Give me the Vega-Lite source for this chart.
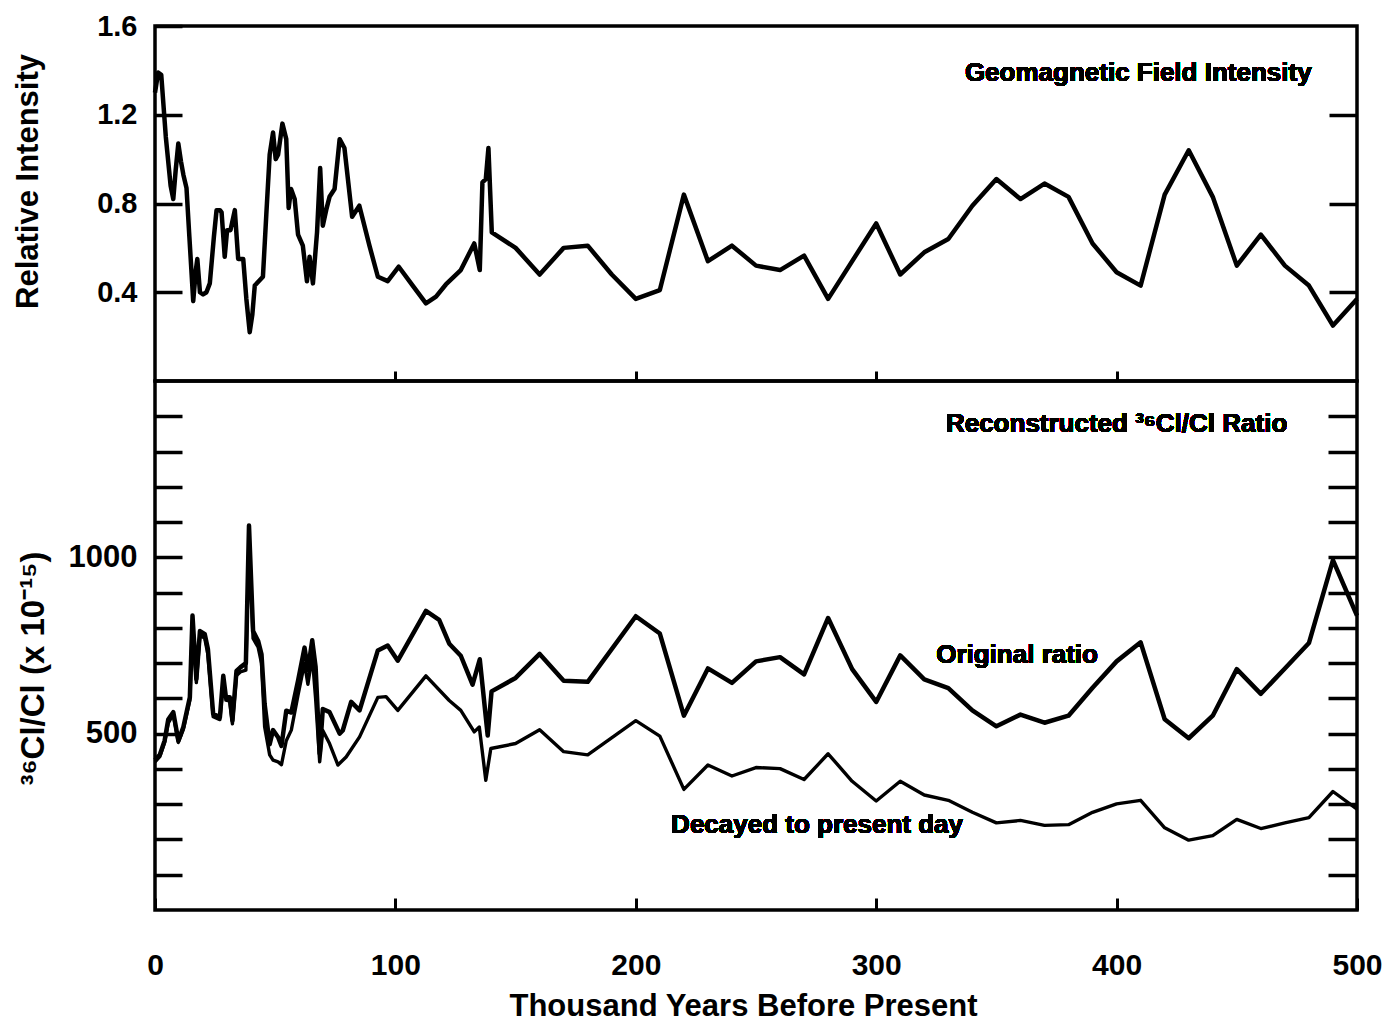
{
  "$schema": "https://vega.github.io/schema/vega-lite/v6.json",
  "background": "white",
  "padding": {"left": 10, "top": 10, "right": 20, "bottom": 6},
  "spacing": 0,
  "bounds": "flush",
  "config": {
    "view": {"stroke": "black", "strokeWidth": 3.5},
    "font": "Liberation Sans",
    "axis": {
      "domain": false, "grid": false,
      "labelFont": "Liberation Sans", "labelFontWeight": "bold", "labelColor": "black",
      "titleFont": "Liberation Sans", "titleFontWeight": "bold", "titleColor": "black",
      "tickColor": "black", "tickWidth": 3.5, "labelFlush": false, "labelOverlap": false
    }
  },
  "datasets": {
    "geo": [
      {"kyr":0,"intensity":1.30},{"kyr":1.3,"intensity":1.39},{"kyr":2.6,"intensity":1.38},{"kyr":4.5,"intensity":1.10},
      {"kyr":6.5,"intensity":0.88},{"kyr":7.6,"intensity":0.82},{"kyr":8.6,"intensity":0.95},{"kyr":9.7,"intensity":1.07},
      {"kyr":10.8,"intensity":0.99},{"kyr":11.8,"intensity":0.93},{"kyr":13.1,"intensity":0.87},{"kyr":14.3,"intensity":0.65},
      {"kyr":15.9,"intensity":0.36},{"kyr":17.0,"intensity":0.50},{"kyr":17.6,"intensity":0.55},{"kyr":18.7,"intensity":0.40},
      {"kyr":20.0,"intensity":0.39},{"kyr":21.4,"intensity":0.40},{"kyr":22.8,"intensity":0.44},{"kyr":24.5,"intensity":0.65},
      {"kyr":25.6,"intensity":0.77},{"kyr":27.0,"intensity":0.77},{"kyr":27.7,"intensity":0.76},{"kyr":29.0,"intensity":0.56},
      {"kyr":30.0,"intensity":0.68},{"kyr":31.4,"intensity":0.68},{"kyr":33.2,"intensity":0.77},{"kyr":34.6,"intensity":0.55},
      {"kyr":36.7,"intensity":0.55},{"kyr":38.0,"intensity":0.37},{"kyr":39.4,"intensity":0.22},{"kyr":40.5,"intensity":0.30},
      {"kyr":41.5,"intensity":0.43},{"kyr":44.9,"intensity":0.47},{"kyr":46.3,"intensity":0.75},{"kyr":47.7,"intensity":1.02},
      {"kyr":49.1,"intensity":1.12},{"kyr":50.2,"intensity":1.00},{"kyr":51.2,"intensity":1.02},{"kyr":53.0,"intensity":1.16},
      {"kyr":54.6,"intensity":1.09},{"kyr":55.6,"intensity":0.78},{"kyr":56.6,"intensity":0.865},{"kyr":58.1,"intensity":0.82},
      {"kyr":59.5,"intensity":0.66},{"kyr":61.5,"intensity":0.61},{"kyr":63.2,"intensity":0.45},{"kyr":64.3,"intensity":0.56},
      {"kyr":65.7,"intensity":0.44},{"kyr":67.4,"intensity":0.67},{"kyr":68.7,"intensity":0.96},{"kyr":69.8,"intensity":0.70},
      {"kyr":71.2,"intensity":0.77},{"kyr":72.6,"intensity":0.83},{"kyr":74.7,"intensity":0.865},{"kyr":76.8,"intensity":1.09},
      {"kyr":78.8,"intensity":1.05},{"kyr":82.0,"intensity":0.74},{"kyr":85.0,"intensity":0.79},{"kyr":89.2,"intensity":0.61},
      {"kyr":92.7,"intensity":0.47},{"kyr":96.8,"intensity":0.45},{"kyr":101.4,"intensity":0.515},{"kyr":107.2,"intensity":0.43},
      {"kyr":112.7,"intensity":0.35},{"kyr":116.9,"intensity":0.38},{"kyr":121.0,"intensity":0.435},{"kyr":127.2,"intensity":0.50},
      {"kyr":132.8,"intensity":0.62},{"kyr":135.1,"intensity":0.50},{"kyr":136.2,"intensity":0.895},{"kyr":137.6,"intensity":0.91},
      {"kyr":138.7,"intensity":1.05},{"kyr":140.1,"intensity":0.67},{"kyr":150,"intensity":0.60},{"kyr":160,"intensity":0.48},
      {"kyr":170,"intensity":0.60},{"kyr":180,"intensity":0.61},{"kyr":190,"intensity":0.48},{"kyr":200,"intensity":0.37},
      {"kyr":210,"intensity":0.41},{"kyr":220,"intensity":0.84},{"kyr":230,"intensity":0.54},{"kyr":240,"intensity":0.61},
      {"kyr":250,"intensity":0.52},{"kyr":260,"intensity":0.50},{"kyr":270,"intensity":0.565},{"kyr":280,"intensity":0.37},
      {"kyr":300,"intensity":0.71},{"kyr":310,"intensity":0.48},{"kyr":320,"intensity":0.58},{"kyr":330,"intensity":0.64},
      {"kyr":340,"intensity":0.79},{"kyr":350,"intensity":0.91},{"kyr":360,"intensity":0.82},{"kyr":370,"intensity":0.89},
      {"kyr":380,"intensity":0.83},{"kyr":390,"intensity":0.62},{"kyr":400,"intensity":0.49},{"kyr":410,"intensity":0.43},
      {"kyr":420,"intensity":0.84},{"kyr":430,"intensity":1.04},{"kyr":440,"intensity":0.83},{"kyr":450,"intensity":0.52},
      {"kyr":460,"intensity":0.66},{"kyr":470,"intensity":0.52},{"kyr":480,"intensity":0.43},{"kyr":490,"intensity":0.25},
      {"kyr":500,"intensity":0.37}
    ],
    "cl": [
      {"kyr":0,"ratio":425,"series":"Original"},{"kyr":2,"ratio":440,"series":"Original"},{"kyr":4,"ratio":480,"series":"Original"},
      {"kyr":5.5,"ratio":540,"series":"Original"},{"kyr":7.6,"ratio":561,"series":"Original"},{"kyr":9.7,"ratio":480,"series":"Original"},
      {"kyr":11.8,"ratio":519,"series":"Original"},{"kyr":14.5,"ratio":603,"series":"Original"},{"kyr":15.6,"ratio":835,"series":"Original"},
      {"kyr":17.2,"ratio":655,"series":"Original"},{"kyr":18.7,"ratio":791,"series":"Original"},{"kyr":20.7,"ratio":782,"series":"Original"},
      {"kyr":22.0,"ratio":740,"series":"Original"},{"kyr":24.2,"ratio":556,"series":"Original"},{"kyr":27.0,"ratio":547,"series":"Original"},
      {"kyr":28.4,"ratio":664,"series":"Original"},{"kyr":29.5,"ratio":603,"series":"Original"},{"kyr":31.1,"ratio":603,"series":"Original"},
      {"kyr":32.2,"ratio":537,"series":"Original"},{"kyr":33.9,"ratio":678,"series":"Original"},{"kyr":35.5,"ratio":688,"series":"Original"},
      {"kyr":37.8,"ratio":700,"series":"Original"},{"kyr":39.1,"ratio":1090,"series":"Original"},{"kyr":40.8,"ratio":791,"series":"Original"},
      {"kyr":42.9,"ratio":763,"series":"Original"},{"kyr":44.3,"ratio":725,"series":"Original"},{"kyr":45.6,"ratio":584,"series":"Original"},
      {"kyr":47.7,"ratio":470,"series":"Original"},{"kyr":49.1,"ratio":510,"series":"Original"},{"kyr":51.2,"ratio":490,"series":"Original"},
      {"kyr":52.6,"ratio":465,"series":"Original"},{"kyr":54.6,"ratio":565,"series":"Original"},{"kyr":56.7,"ratio":560,"series":"Original"},
      {"kyr":59.5,"ratio":650,"series":"Original"},{"kyr":62.2,"ratio":744,"series":"Original"},{"kyr":63.6,"ratio":680,"series":"Original"},
      {"kyr":65.4,"ratio":765,"series":"Original"},{"kyr":66.8,"ratio":690,"series":"Original"},{"kyr":68.5,"ratio":443,"series":"Original"},
      {"kyr":69.8,"ratio":570,"series":"Original"},{"kyr":72.6,"ratio":561,"series":"Original"},{"kyr":76.8,"ratio":500,"series":"Original"},
      {"kyr":78.1,"ratio":509,"series":"Original"},{"kyr":81.6,"ratio":590,"series":"Original"},{"kyr":85.1,"ratio":566,"series":"Original"},
      {"kyr":92.7,"ratio":736,"series":"Original"},{"kyr":96.8,"ratio":750,"series":"Original"},{"kyr":101.0,"ratio":707,"series":"Original"},
      {"kyr":112.7,"ratio":848,"series":"Original"},{"kyr":118.2,"ratio":823,"series":"Original"},{"kyr":122.4,"ratio":755,"series":"Original"},
      {"kyr":127.2,"ratio":721,"series":"Original"},{"kyr":132.1,"ratio":639,"series":"Original"},{"kyr":135.1,"ratio":711,"series":"Original"},
      {"kyr":138.4,"ratio":495,"series":"Original"},{"kyr":140,"ratio":620,"series":"Original"},{"kyr":150,"ratio":658,"series":"Original"},
      {"kyr":160,"ratio":726,"series":"Original"},{"kyr":170,"ratio":650,"series":"Original"},{"kyr":180,"ratio":647,"series":"Original"},
      {"kyr":200,"ratio":833,"series":"Original"},{"kyr":210,"ratio":784,"series":"Original"},{"kyr":220,"ratio":551,"series":"Original"},
      {"kyr":230,"ratio":685,"series":"Original"},{"kyr":240,"ratio":644,"series":"Original"},{"kyr":250,"ratio":705,"series":"Original"},
      {"kyr":260,"ratio":717,"series":"Original"},{"kyr":270,"ratio":668,"series":"Original"},{"kyr":280,"ratio":828,"series":"Original"},
      {"kyr":290,"ratio":683,"series":"Original"},{"kyr":300,"ratio":590,"series":"Original"},{"kyr":310,"ratio":722,"series":"Original"},
      {"kyr":320,"ratio":654,"series":"Original"},{"kyr":330,"ratio":629,"series":"Original"},{"kyr":340,"ratio":566,"series":"Original"},
      {"kyr":350,"ratio":521,"series":"Original"},{"kyr":360,"ratio":554,"series":"Original"},{"kyr":370,"ratio":531,"series":"Original"},
      {"kyr":380,"ratio":551,"series":"Original"},{"kyr":390,"ratio":630,"series":"Original"},{"kyr":400,"ratio":705,"series":"Original"},
      {"kyr":410,"ratio":759,"series":"Original"},{"kyr":420,"ratio":541,"series":"Original"},{"kyr":430,"ratio":487,"series":"Original"},
      {"kyr":440,"ratio":551,"series":"Original"},{"kyr":450,"ratio":683,"series":"Original"},{"kyr":460,"ratio":613,"series":"Original"},
      {"kyr":470,"ratio":685,"series":"Original"},{"kyr":480,"ratio":757,"series":"Original"},{"kyr":490,"ratio":992,"series":"Original"},
      {"kyr":500,"ratio":835,"series":"Original"},
      {"kyr":0,"ratio":420,"series":"Decayed"},{"kyr":2,"ratio":435,"series":"Decayed"},{"kyr":4,"ratio":475,"series":"Decayed"},
      {"kyr":5.5,"ratio":530,"series":"Decayed"},{"kyr":7.6,"ratio":555,"series":"Decayed"},{"kyr":9.7,"ratio":475,"series":"Decayed"},
      {"kyr":11.8,"ratio":512,"series":"Decayed"},{"kyr":14.5,"ratio":595,"series":"Decayed"},{"kyr":15.6,"ratio":820,"series":"Decayed"},
      {"kyr":17.2,"ratio":645,"series":"Decayed"},{"kyr":18.7,"ratio":780,"series":"Decayed"},{"kyr":20.7,"ratio":770,"series":"Decayed"},
      {"kyr":22.0,"ratio":725,"series":"Decayed"},{"kyr":24.2,"ratio":548,"series":"Decayed"},{"kyr":27.0,"ratio":540,"series":"Decayed"},
      {"kyr":28.4,"ratio":650,"series":"Decayed"},{"kyr":29.5,"ratio":595,"series":"Decayed"},{"kyr":31.1,"ratio":592,"series":"Decayed"},
      {"kyr":32.2,"ratio":528,"series":"Decayed"},{"kyr":33.9,"ratio":665,"series":"Decayed"},{"kyr":35.5,"ratio":675,"series":"Decayed"},
      {"kyr":37.8,"ratio":680,"series":"Decayed"},{"kyr":39.1,"ratio":1050,"series":"Decayed"},{"kyr":40.8,"ratio":770,"series":"Decayed"},
      {"kyr":42.9,"ratio":745,"series":"Decayed"},{"kyr":44.3,"ratio":700,"series":"Decayed"},{"kyr":45.6,"ratio":520,"series":"Decayed"},
      {"kyr":47.7,"ratio":440,"series":"Decayed"},{"kyr":49.1,"ratio":425,"series":"Decayed"},{"kyr":51.2,"ratio":420,"series":"Decayed"},
      {"kyr":52.6,"ratio":412,"series":"Decayed"},{"kyr":54.6,"ratio":480,"series":"Decayed"},{"kyr":56.7,"ratio":510,"series":"Decayed"},
      {"kyr":59.5,"ratio":610,"series":"Decayed"},{"kyr":62.2,"ratio":700,"series":"Decayed"},{"kyr":63.6,"ratio":640,"series":"Decayed"},
      {"kyr":65.4,"ratio":720,"series":"Decayed"},{"kyr":66.8,"ratio":600,"series":"Decayed"},{"kyr":68.5,"ratio":420,"series":"Decayed"},
      {"kyr":69.8,"ratio":509,"series":"Decayed"},{"kyr":72.6,"ratio":472,"series":"Decayed"},{"kyr":76.1,"ratio":411,"series":"Decayed"},
      {"kyr":79.5,"ratio":434,"series":"Decayed"},{"kyr":85.1,"ratio":491,"series":"Decayed"},{"kyr":92.7,"ratio":603,"series":"Decayed"},
      {"kyr":96.1,"ratio":605,"series":"Decayed"},{"kyr":101.0,"ratio":566,"series":"Decayed"},{"kyr":112.7,"ratio":664,"series":"Decayed"},
      {"kyr":122.4,"ratio":594,"series":"Decayed"},{"kyr":127.2,"ratio":566,"series":"Decayed"},{"kyr":132.8,"ratio":505,"series":"Decayed"},
      {"kyr":134.9,"ratio":519,"series":"Decayed"},{"kyr":137.6,"ratio":368,"series":"Decayed"},{"kyr":139.7,"ratio":458,"series":"Decayed"},
      {"kyr":150,"ratio":472,"series":"Decayed"},{"kyr":160,"ratio":511,"series":"Decayed"},{"kyr":170,"ratio":449,"series":"Decayed"},
      {"kyr":180,"ratio":440,"series":"Decayed"},{"kyr":200,"ratio":537,"series":"Decayed"},{"kyr":210,"ratio":493,"series":"Decayed"},
      {"kyr":220,"ratio":342,"series":"Decayed"},{"kyr":230,"ratio":411,"series":"Decayed"},{"kyr":240,"ratio":380,"series":"Decayed"},
      {"kyr":250,"ratio":404,"series":"Decayed"},{"kyr":260,"ratio":401,"series":"Decayed"},{"kyr":270,"ratio":370,"series":"Decayed"},
      {"kyr":280,"ratio":443,"series":"Decayed"},{"kyr":290,"ratio":365,"series":"Decayed"},{"kyr":300,"ratio":309,"series":"Decayed"},
      {"kyr":310,"ratio":365,"series":"Decayed"},{"kyr":320,"ratio":326,"series":"Decayed"},{"kyr":330,"ratio":311,"series":"Decayed"},
      {"kyr":340,"ratio":277,"series":"Decayed"},{"kyr":350,"ratio":247,"series":"Decayed"},{"kyr":360,"ratio":254,"series":"Decayed"},
      {"kyr":370,"ratio":240,"series":"Decayed"},{"kyr":380,"ratio":242,"series":"Decayed"},{"kyr":390,"ratio":277,"series":"Decayed"},
      {"kyr":400,"ratio":301,"series":"Decayed"},{"kyr":410,"ratio":311,"series":"Decayed"},{"kyr":420,"ratio":233,"series":"Decayed"},
      {"kyr":430,"ratio":198,"series":"Decayed"},{"kyr":440,"ratio":211,"series":"Decayed"},{"kyr":450,"ratio":257,"series":"Decayed"},
      {"kyr":460,"ratio":231,"series":"Decayed"},{"kyr":470,"ratio":247,"series":"Decayed"},{"kyr":480,"ratio":262,"series":"Decayed"},
      {"kyr":490,"ratio":336,"series":"Decayed"},{"kyr":500,"ratio":286,"series":"Decayed"}
    ]
  },
  "vconcat": [
    {
      "width": 1202,
      "height": 355,
      "data": {"name": "geo"},
      "resolve": {"axis": {"y": "independent"}},
      "layer": [
        {
          "mark": {"type": "line", "color": "black", "strokeWidth": 4.5, "strokeJoin": "round"},
          "encoding": {
            "x": {"field": "kyr", "type": "quantitative", "scale": {"domain": [0, 500], "nice": false, "zero": false},
                  "axis": {"orient": "bottom", "values": [100, 200, 300, 400], "labels": false, "tickSize": -10, "tickWidth": 3, "title": null}},
            "y": {"field": "intensity", "type": "quantitative", "scale": {"domain": [0, 1.6], "nice": false},
                  "axis": {"orient": "left", "values": [0.4, 0.8, 1.2, 1.6], "format": ".1f", "tickSize": -27, "labelPadding": 45, "labelFontSize": 29,
                           "title": "Relative Intensity", "titleFontSize": 31, "titleX": -127, "titleY": 155, "titleBaseline": "middle", "titleAngle": -90}}
          }
        },
        {
          "mark": {"type": "line", "opacity": 0},
          "encoding": {
            "x": {"field": "kyr", "type": "quantitative"},
            "y": {"field": "intensity", "type": "quantitative",
                  "axis": {"orient": "right", "values": [0.4, 0.8, 1.2], "labels": false, "tickSize": -28, "title": null}}
          }
        },
        {
          "mark": {"type": "text", "font": "Liberation Sans", "fontWeight": "bold", "fontSize": 26, "align": "center", "baseline": "middle", "color": "black"},
          "encoding": {
            "x": {"datum": 409, "type": "quantitative"},
            "y": {"datum": 1.39, "type": "quantitative", "axis": null},
            "text": {"value": "Geomagnetic Field Intensity"}
          }
        }
      ]
    },
    {
      "width": 1202,
      "height": 529,
      "data": {"name": "cl"},
      "resolve": {"axis": {"y": "independent"}},
      "layer": [
        {
          "transform": [{"filter": "datum.series === 'Original'"}],
          "mark": {"type": "line", "color": "black", "strokeWidth": 4.5, "strokeJoin": "round"},
          "encoding": {
            "x": {"field": "kyr", "type": "quantitative", "scale": {"domain": [0, 500], "nice": false, "zero": false},
                  "axis": {"orient": "bottom", "values": [0, 100, 200, 300, 400, 500], "format": "d", "tickSize": -12, "tickWidth": 3, "labelPadding": 52, "labelFontSize": 30,
                           "title": "Thousand Years Before Present", "titleFontSize": 31, "titleX": 588, "titleY": 81, "titleAlign": "center", "titleBaseline": "top"}},
            "y": {"field": "ratio", "type": "quantitative", "scale": {"domain": [0, 1500], "nice": false},
                  "axis": {"orient": "left", "values": [100, 200, 300, 400, 500, 600, 700, 800, 900, 1000, 1100, 1200, 1300, 1400],
                           "format": "d",
                           "labelExpr": "datum.value == 500 || datum.value == 1000 ? datum.label : ''",
                           "tickSize": -27, "labelPadding": 45, "labelFontSize": 31,
                           "title": "³⁶Cl/Cl (x 10⁻¹⁵)", "titleFontSize": 33, "titleX": -122, "titleY": 287, "titleBaseline": "middle", "titleAngle": -90}}
          }
        },
        {
          "transform": [{"filter": "datum.series === 'Decayed'"}],
          "mark": {"type": "line", "color": "black", "strokeWidth": 3.4, "strokeJoin": "round"},
          "encoding": {
            "x": {"field": "kyr", "type": "quantitative"},
            "y": {"field": "ratio", "type": "quantitative",
                  "axis": {"orient": "right", "values": [100, 200, 300, 400, 500, 600, 700, 800, 900, 1000, 1100, 1200, 1300, 1400], "labels": false, "tickSize": -29, "title": null}}
          }
        },
        {
          "mark": {"type": "text", "font": "Liberation Sans", "fontWeight": "bold", "fontSize": 26, "align": "center", "baseline": "middle", "color": "black"},
          "encoding": {
            "x": {"datum": 400, "type": "quantitative"},
            "y": {"datum": 1377, "type": "quantitative", "axis": null},
            "text": {"value": "Reconstructed ³⁶Cl/Cl Ratio"}
          }
        },
        {
          "mark": {"type": "text", "font": "Liberation Sans", "fontWeight": "bold", "fontSize": 26, "align": "center", "baseline": "middle", "color": "black"},
          "encoding": {
            "x": {"datum": 358.6, "type": "quantitative"},
            "y": {"datum": 724, "type": "quantitative", "axis": null},
            "text": {"value": "Original ratio"}
          }
        },
        {
          "mark": {"type": "text", "font": "Liberation Sans", "fontWeight": "bold", "fontSize": 26, "align": "center", "baseline": "middle", "color": "black"},
          "encoding": {
            "x": {"datum": 275.4, "type": "quantitative"},
            "y": {"datum": 242, "type": "quantitative", "axis": null},
            "text": {"value": "Decayed to present day"}
          }
        }
      ]
    }
  ]
}
